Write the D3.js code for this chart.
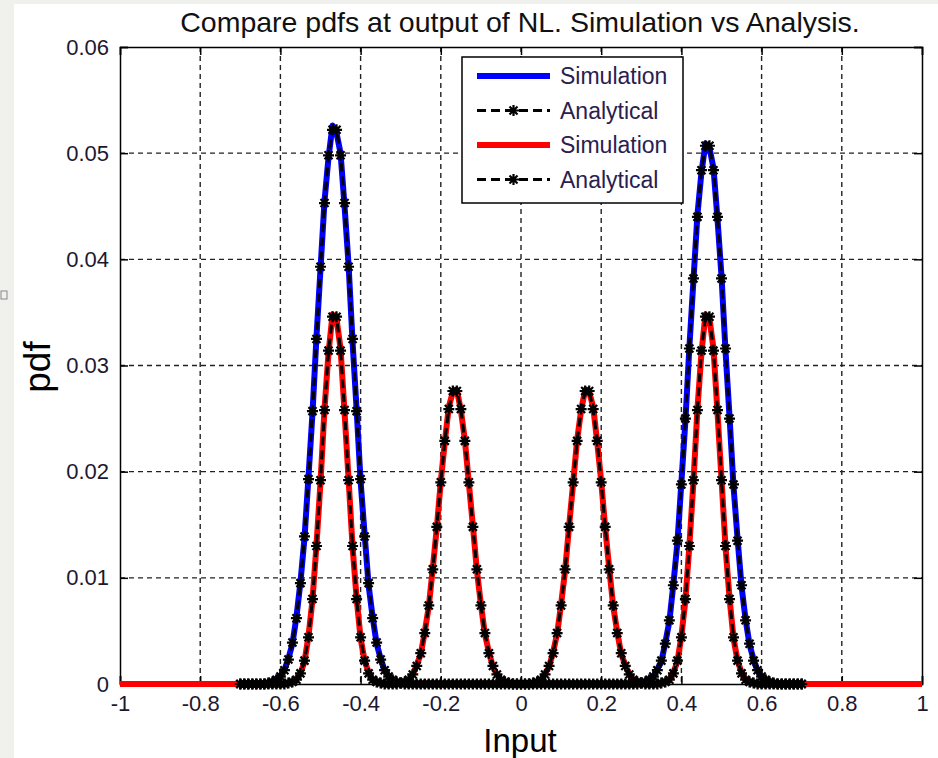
<!DOCTYPE html>
<html>
<head>
<meta charset="utf-8">
<script src="https://cdn.jsdelivr.net/npm/d3@7"></script>
<style>
  body { margin: 0; background: #f0f0ec; }
  text { font-family: "Liberation Sans", Arial, sans-serif; }
</style>
</head>
<body>
<svg width="938" height="758"></svg>
<script>
// pdf values are in units of 1e-4, one sample every 0.01 of the input axis
// simulation runs from -1 to 1, analytical from -0.7 to 0.7
var simStart = -1, anaStart = -0.7, step = 0.01;

var blueSim = [
  0,0,0,0,0,0,0,0,0,0,
  0,0,0,0,0,0,0,0,0,0,
  0,0,0,0,0,0,0,0,0,0,
  0,0,0,0,0,0,0,1,2,5,
  8,13,24,38,63,96,137,195,255,327,
  391,455,496,526,519,500,450,395,322,259,
  191,141,93,63,38,24,12,8,3,2,
  1,0,0,0,0,0,0,0,0,0,
  0,0,0,0,0,0,0,0,0,0,
  0,0,0,0,0,0,0,0,0,0,
  0,0,0,0,0,0,0,0,0,0,
  0,0,0,0,0,0,0,0,0,0,
  0,0,0,0,0,0,0,0,0,0,
  1,2,5,7,14,21,39,59,94,133,
  190,248,318,380,442,482,509,505,486,438,
  384,314,252,186,137,92,61,37,23,12,
  7,4,2,1,0,0,0,0,0,0,
  0,0,0,0,0,0,0,0,0,0,
  0,0,0,0,0,0,0,0,0,0,
  0,0,0,0,0,0,0,0,0,0,
  0
];

var redSim = [
  0,0,0,0,0,0,0,0,0,0,
  0,0,0,0,0,0,0,0,0,0,
  0,0,0,0,0,0,0,0,0,0,
  0,0,0,0,0,0,0,0,0,0,
  0,0,1,2,5,10,21,45,79,131,
  190,259,312,348,344,316,256,193,129,81,
  43,22,11,4,2,1,0,0,0,1,
  1,2,4,9,18,28,49,73,109,147,
  191,228,261,275,277,258,230,189,149,107,
  75,47,30,16,9,4,2,1,0,0,
  0,0,0,1,2,4,10,16,30,47,
  75,107,149,189,230,258,277,275,261,228,
  191,147,109,73,49,28,18,9,4,2,
  1,0,0,0,0,1,2,4,11,21,
  45,79,131,190,259,312,348,344,316,256,
  193,129,81,43,22,11,4,2,1,0,
  0,0,0,0,0,0,0,0,0,0,
  0,0,0,0,0,0,0,0,0,0,
  0,0,0,0,0,0,0,0,0,0,
  0,0,0,0,0,0,0,0,0,0,
  0
];

var blueAna = [
  0,0,0,0,0,0,0,1,2,4,
  7,13,23,39,62,95,139,193,257,325,
  393,453,498,522,522,498,453,393,325,257,
  193,139,95,62,39,23,13,7,4,2,
  1,0,0,0,0,0,0,0,0,0,
  0,0,0,0,0,0,0,0,0,0,
  0,0,0,0,0,0,0,0,0,0,
  0,0,0,0,0,0,0,0,0,0,
  0,0,0,0,0,0,0,0,0,0,
  0,0,0,0,0,0,0,0,0,0,
  1,2,4,7,13,22,38,60,93,135,
  188,250,316,382,440,484,507,507,484,440,
  382,316,250,188,135,93,60,38,22,13,
  7,4,2,1,0,0,0,0,0,0,
  0
];

var redAna = [
  0,0,0,0,0,0,0,0,0,0,
  0,0,1,2,4,10,22,44,80,130,
  192,258,314,346,346,314,258,192,130,80,
  44,22,10,4,2,1,0,0,0,0,
  1,2,4,9,17,29,48,74,108,148,
  190,229,259,276,276,259,229,190,148,108,
  74,48,29,17,9,4,2,1,0,0,
  0,0,0,1,2,4,9,17,29,48,
  74,108,148,190,229,259,276,276,259,229,
  190,148,108,74,48,29,17,9,4,2,
  1,0,0,0,0,1,2,4,10,22,
  44,80,130,192,258,314,346,346,314,258,
  192,130,80,44,22,10,4,2,1,0,
  0,0,0,0,0,0,0,0,0,0,
  0
];

var xTicks = [-1, -0.8, -0.6, -0.4, -0.2, 0, 0.2, 0.4, 0.6, 0.8, 1];
var yTicks = [0, 0.01, 0.02, 0.03, 0.04, 0.05, 0.06];
var legendLabels = ["Simulation", "Analytical", "Simulation", "Analytical"];

var svg = d3.select("svg"),
    margin = {left: 120, right: 16, top: 47, bottom: 74},
    width = +svg.attr("width") - margin.left - margin.right,
    height = +svg.attr("height") - margin.top - margin.bottom;

// white figure area over the grey window edge
svg.append("rect").attr("x", 14).attr("y", 4).attr("width", 924).attr("height", 754).attr("fill", "#fff");
svg.append("rect").attr("x", 1).attr("y", 291).attr("width", 6).attr("height", 8)
   .attr("fill", "none").attr("stroke", "#888");

var g = svg.append("g").attr("transform", "translate(" + margin.left + "," + margin.top + ")");

var x = d3.scaleLinear().domain([-1, 1]).range([0, width]);
var y = d3.scaleLinear().domain([0, 0.06]).range([height, 0]);

function toPoints(arr, start) {
  return arr.map(function(v, i) { return {x: start + i * step, y: v * 1e-4}; });
}

// grid
g.append("g").attr("class", "grid")
  .selectAll("line").data(xTicks.slice(1, -1)).enter().append("line")
  .attr("x1", x).attr("x2", x).attr("y1", 0).attr("y2", height);
g.append("g").attr("class", "grid")
  .selectAll("line").data(yTicks.slice(1, -1)).enter().append("line")
  .attr("y1", y).attr("y2", y).attr("x1", 0).attr("x2", width);
g.selectAll(".grid line").attr("stroke", "#222").attr("stroke-width", 1.4).attr("stroke-dasharray", "5,4");

// axes, ticks pointing inwards like matlab; plain hyphen for negatives
var fmt = function(d) { return String(+d.toFixed(2)); };
g.append("g").attr("transform", "translate(0," + height + ")")
  .call(d3.axisBottom(x).tickValues(xTicks).tickFormat(fmt).tickSize(-8).tickPadding(11));
g.append("g")
  .call(d3.axisTop(x).tickValues(xTicks).tickFormat("").tickSize(-8));
g.append("g")
  .call(d3.axisLeft(y).tickValues(yTicks).tickFormat(fmt).tickSize(-8).tickPadding(11));
g.append("g").attr("transform", "translate(" + width + ",0)")
  .call(d3.axisRight(y).tickValues(yTicks).tickFormat("").tickSize(-8));
g.selectAll(".domain").attr("stroke", "#000").attr("stroke-width", 1.5);
g.selectAll(".tick line").attr("stroke", "#000").attr("stroke-width", 1.5);
g.selectAll(".tick text").attr("font-size", 22).attr("fill", "#1c1830")
  .attr("font-family", "'Liberation Sans', Arial, sans-serif");

// curves
var line = d3.line().x(function(d) { return x(d.x); }).y(function(d) { return y(d.y); });
var star = "M-5.5,0H5.5M0,-5.5V5.5M-4,-4L4,4M-4,4L4,-4";

function simCurve(arr, color) {
  g.append("path").datum(toPoints(arr, simStart))
    .attr("fill", "none").attr("stroke", color).attr("stroke-width", 6)
    .attr("stroke-linejoin", "round").attr("d", line);
}
function anaCurve(arr) {
  var pts = toPoints(arr, anaStart);
  g.append("path").datum(pts)
    .attr("fill", "none").attr("stroke", "#000").attr("stroke-width", 3)
    .attr("stroke-dasharray", "9,5").attr("d", line);
  g.append("g").selectAll("path").data(pts).enter().append("path")
    .attr("transform", function(d) { return "translate(" + x(d.x) + "," + y(d.y) + ")"; })
    .attr("d", star).attr("stroke", "#000").attr("stroke-width", 2.2).attr("fill", "none");
}

simCurve(blueSim, "#0000ff");
anaCurve(blueAna);
simCurve(redSim, "#ff0000");
anaCurve(redAna);

// legend
var lg = svg.append("g").attr("transform", "translate(462,57)");
lg.append("rect").attr("width", 221).attr("height", 146)
  .attr("fill", "#fff").attr("stroke", "#000").attr("stroke-width", 1.5);
var rows = lg.selectAll("g.row").data(legendLabels).enter().append("g")
  .attr("transform", function(d, i) { return "translate(0," + (19 + i * 34.5) + ")"; });
rows.append("line").attr("x1", 15).attr("x2", 88)
  .attr("stroke", function(d, i) { return i == 0 ? "#0000ff" : i == 2 ? "#ff0000" : "#000"; })
  .attr("stroke-width", function(d, i) { return i % 2 ? 3 : 6; })
  .attr("stroke-dasharray", function(d, i) { return i % 2 ? "9,5" : null; });
rows.filter(function(d, i) { return i % 2; }).append("path")
  .attr("transform", "translate(51.5,0)").attr("d", star)
  .attr("stroke", "#000").attr("stroke-width", 2.2);
rows.append("text").attr("x", 98).attr("dy", "0.36em")
  .attr("font-size", 23).attr("fill", "#2a2050").text(function(d) { return d; });

// titles
svg.append("text").attr("x", 520).attr("y", 32).attr("text-anchor", "middle")
  .attr("font-size", 28.5).attr("fill", "#111")
  .text("Compare pdfs at output of NL. Simulation vs Analysis.");
svg.append("text").attr("x", 520).attr("y", 752).attr("text-anchor", "middle")
  .attr("font-size", 33).attr("fill", "#000").text("Input");
svg.append("text").attr("transform", "translate(50,367) rotate(-90)").attr("text-anchor", "middle")
  .attr("font-size", 37).attr("fill", "#000").text("pdf");
</script>
</body>
</html>
